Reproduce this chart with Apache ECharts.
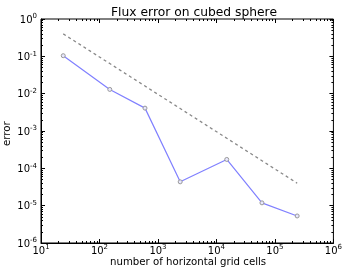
<!DOCTYPE html>
<html>
<head>
<meta charset="utf-8">
<script src="https://cdn.jsdelivr.net/npm/echarts@6/dist/echarts.min.js"></script>
<style>
  html, body { margin: 0; padding: 0; background: #fff; }
  #chart { width: 345px; height: 270px; }
</style>
</head>
<body>
<div id="chart"></div>
<script>
// grid sizes: 6 * N^2 cells on the cubed sphere
var cells = [24, 150, 600, 2400, 15000, 60000, 240000];
var fluxError = [0.104, 0.013, 0.0041, 0.0000435, 0.000173, 0.0000119, 0.0000053];
// first order reference slope
var refLine = [0.4, 0.064, 0.016, 0.004, 0.00064, 0.00016, 0.00004];

var xTickExp = [1, 2, 3, 4, 5, 6];
var yTickExp = [0, -1, -2, -3, -4, -5, -6];

var font = 'DejaVu Sans';

// minor tick positions at 2..9 x 10^k (matplotlib style)
function minorTicks(lo, hi) {
    var out = [];
    for (var k = lo; k < hi; k++)
        for (var m = 2; m <= 9; m++)
            out.push(m * Math.pow(10, k));
    return out;
}

function powLabel(v) {
    var e = Math.round(Math.log10(v));
    return '{b|10}{s|' + e + '}';
}
var rich = {
    b: { fontFamily: font, fontSize: 10, color: '#000', verticalAlign: 'bottom', lineHeight: 12 },
    s: { fontFamily: font, fontSize: 7, color: '#000', verticalAlign: 'top', lineHeight: 12, padding: [0, 0, 5, 0] }
};

var xMajor = xTickExp.map(function (e) { return Math.pow(10, e); });
var yMajor = yTickExp.map(function (e) { return Math.pow(10, e); });
var xMinor = minorTicks(1, 6);
var yMinor = minorTicks(-6, 0);

function xAxisDef(pos, len, values, labels) {
    return {
        type: 'log', logBase: 10, min: 10, max: 1e6,
        position: pos, gridIndex: 0,
        axisLine: { show: labels, lineStyle: { color: '#000', width: 1 } },
        splitLine: { show: false },
        axisTick: { show: true, inside: true, length: len,
                    lineStyle: { color: '#000', width: 1 },
                    customValues: values },
        axisLabel: { show: labels, formatter: powLabel, rich: rich, margin: 1,
                     customValues: labels ? xMajor : undefined }
    };
}
function yAxisDef(pos, len, values, labels) {
    return {
        type: 'log', logBase: 10, min: 1e-6, max: 1,
        position: pos, gridIndex: 0,
        axisLine: { show: labels, lineStyle: { color: '#000', width: 1 } },
        splitLine: { show: false },
        axisTick: { show: true, inside: true, length: len,
                    lineStyle: { color: '#000', width: 1 },
                    customValues: values },
        axisLabel: { show: labels, formatter: powLabel, rich: rich, margin: 4,
                     customValues: labels ? yMajor : undefined }
    };
}

var chart = echarts.init(document.getElementById('chart'));
chart.setOption({
    animation: false,
    backgroundColor: '#fff',
    title: {
        text: 'Flux error on cubed sphere',
        left: 189, top: 2, textAlign: 'center',
        textStyle: { fontFamily: font, fontSize: 12.3, fontWeight: 'normal', color: '#000' }
    },
    grid: { left: 41, right: 10, top: 19, bottom: 27, show: true,
            borderColor: '#000', borderWidth: 1, backgroundColor: 'transparent' },
    xAxis: [
        xAxisDef('bottom', 4, xMajor, true),
        xAxisDef('top', 4, xMajor, false),
        xAxisDef('bottom', 2, xMinor, false),
        xAxisDef('top', 2, xMinor, false)
    ],
    yAxis: [
        yAxisDef('left', 4, yMajor, true),
        yAxisDef('right', 4, yMajor, false),
        yAxisDef('left', 2, yMinor, false),
        yAxisDef('right', 2, yMinor, false)
    ],
    graphic: [
        { type: 'text', left: 110, top: 257,
          style: { text: 'number of horizontal grid cells', fontFamily: font, fontSize: 10.2, fill: '#000' } },
        { type: 'text', x: 2, y: 146, rotation: Math.PI / 2,
          style: { text: 'error', fontFamily: font, fontSize: 10.2, fill: '#000' } }
    ],
    series: [
        {
            type: 'line',
            data: cells.map(function (c, i) { return [c, refLine[i]]; }),
            showSymbol: false,
            lineStyle: { color: '#888', width: 1.3, type: [3, 3] },
            z: 2
        },
        {
            type: 'line',
            data: cells.map(function (c, i) { return [c, fluxError[i]]; }),
            symbol: 'circle', symbolSize: 4,
            itemStyle: { color: '#e8e8ff', borderColor: '#999', borderWidth: 1 },
            lineStyle: { color: '#8080ff', width: 1.2 },
            z: 3
        }
    ]
});
</script>
</body>
</html>
